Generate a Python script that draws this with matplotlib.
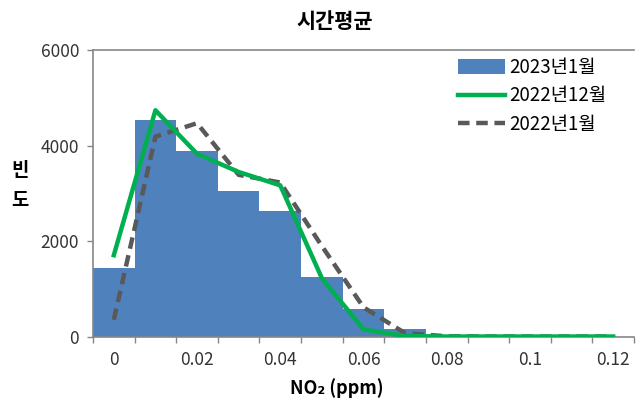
import matplotlib
matplotlib.use('Agg')
import matplotlib.pyplot as plt
from matplotlib.patches import Patch
from matplotlib.lines import Line2D
import numpy as np

plt.rcParams['font.family'] = ['Noto Sans CJK KR', 'DejaVu Sans']

# 농도 구간 (ppm)
categories = ['0', '0.01', '0.02', '0.03', '0.04', '0.05', '0.06',
              '0.07', '0.08', '0.09', '0.1', '0.11', '0.12']
# 빈도
freq_2023_01 = [1450, 4530, 3880, 3060, 2640, 1250, 590, 170, 10, 0, 0, 0, 0]
freq_2022_12 = [1710, 4740, 3830, 3450, 3170, 1230, 160, 20, 10, 10, 10, 10, 10]
freq_2022_01 = [360, 4190, 4470, 3390, 3230, 1900, 620, 80, 15, 10, 10, 10, 10]
labels = ['2023년1월', '2022년12월', '2022년1월']

c_bar = '#4F81BD'
c_green = '#00B050'
c_gray = '#595959'
c_axis = '#868686'
dash = (0, (2.6, 1.5))

fig = plt.figure(figsize=(6.36, 4.04), dpi=100)
ax = fig.add_axes([93/636, 1-337/404, 541/636, 287/404])

x = np.arange(len(categories))
ax.bar(x, freq_2023_01, width=1.0, color=c_bar, zorder=1)
ax.plot(x, freq_2022_12, color=c_green, lw=3.2, zorder=3)
ax.plot(x, freq_2022_01, color=c_gray, lw=3.2, ls=dash, zorder=2)

ax.set_xlim(-0.5, len(categories)-0.5)
ax.set_ylim(0, 6000)
ax.set_yticks([0, 2000, 4000, 6000])

# 라벨은 두 칸마다, 눈금선은 구간 경계에
ax.set_xticks(x[::2])
ax.set_xticklabels(categories[::2])
ax.set_xticks(np.arange(-0.5, len(categories)), minor=True)
ax.tick_params(axis='x', which='major', length=0, pad=10, labelsize=12.5, colors='#333333')
ax.tick_params(axis='x', which='minor', length=4, width=1, color=c_axis, direction='out')
ax.tick_params(axis='y', length=4, width=1, color=c_axis, labelsize=12.5,
               labelcolor='#333333', pad=6)

for s in ['left', 'bottom', 'top']:
    ax.spines[s].set_color(c_axis)
    ax.spines[s].set_linewidth(1.2)
ax.spines['right'].set_visible(False)

fig.text(335/636, 1-22/404, '시간평균', ha='center', va='center',
         fontsize=15, fontweight='bold')
fig.text(20/636, 1-171/404, '빈', ha='center', va='center', fontsize=13.5, fontweight='bold')
fig.text(20/636, 1-200/404, '도', ha='center', va='center', fontsize=13.5, fontweight='bold')
fig.text(337/636, 1-388/404, 'NO₂ (ppm)', ha='center', va='center',
         fontsize=13, fontweight='bold')

handles = [Patch(facecolor=c_bar),
           Line2D([], [], color=c_green, lw=3.2),
           Line2D([], [], color=c_gray, lw=3.2, ls=dash)]
fig.legend(handles, labels, loc='upper left', bbox_to_anchor=(441/636, 1-40/404),
           frameon=False, fontsize=13.5, handlelength=2.5, handletextpad=0.25,
           labelspacing=0.4, handleheight=0.8)

fig.savefig('out.png', dpi=100)
